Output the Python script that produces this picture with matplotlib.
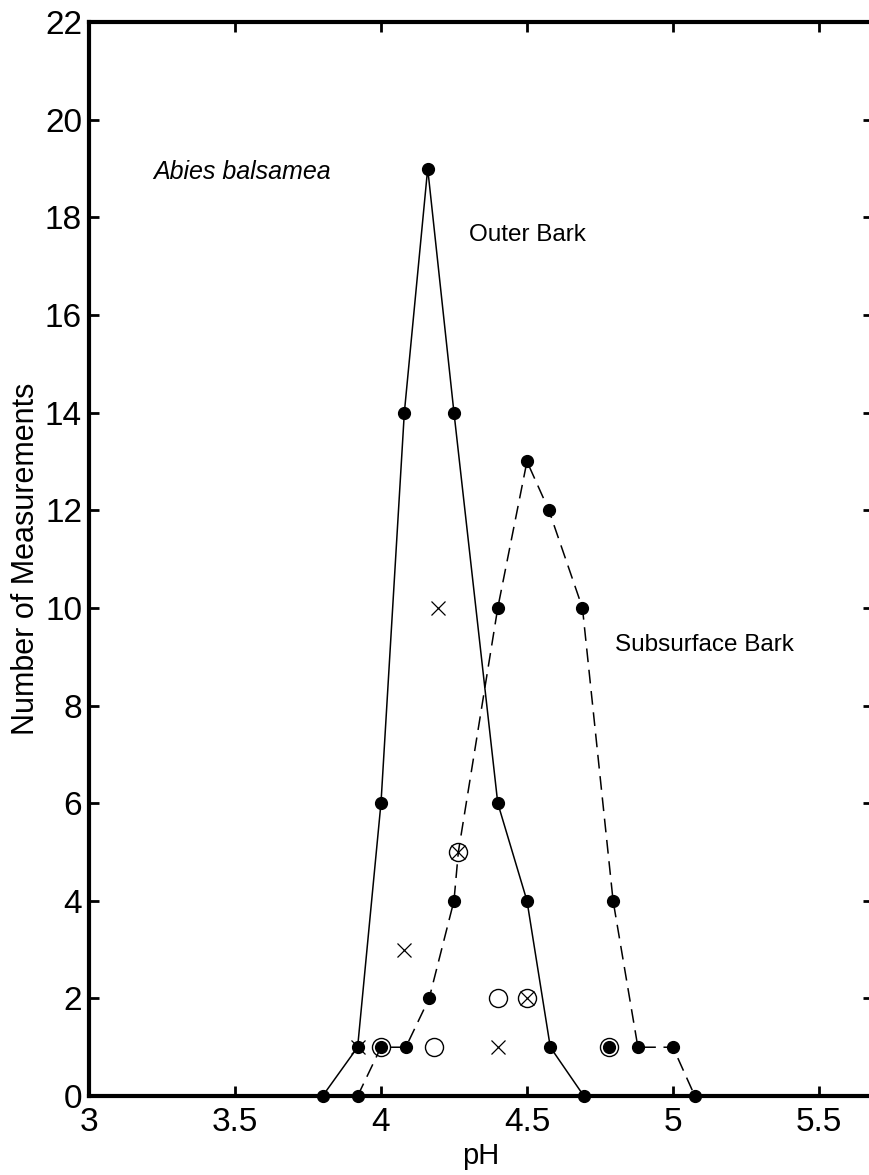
import matplotlib
matplotlib.use("Agg")
import matplotlib.pyplot as plt

plt.rcParams["font.family"] = ["Liberation Sans", "DejaVu Sans"]

# Outer bark counts (solid line)
outer_ph = [3.80, 3.92, 4.00, 4.08, 4.16, 4.25, 4.40, 4.50, 4.58, 4.695]
outer_n = [0, 1, 6, 14, 19, 14, 6, 4, 1, 0]

# Subsurface bark counts (dashed line)
sub_ph = [3.92, 4.00, 4.085, 4.165, 4.25, 4.265, 4.40, 4.50, 4.575, 4.69, 4.795, 4.88, 5.00, 5.075]
sub_n = [0, 1, 1, 2, 4, 5, 10, 13, 12, 10, 4, 1, 1, 0]
sub_dots = [0, 1, 2, 3, 4, 6, 7, 8, 9, 10, 11, 12, 13]

# Other symbols
cross_ph = [3.92, 4.08, 4.195, 4.265, 4.40, 4.50]
cross_n = [1, 3, 10, 5, 1, 2]
circle_ph = [4.00, 4.18, 4.265, 4.40, 4.50, 4.78]
circle_n = [1, 1, 5, 2, 2, 1]
dot_ph = [4.78]
dot_n = [1]

xticks = [3, 3.5, 4, 4.5, 5, 5.5]
xtick_labels = ["3", "3.5", "4", "4.5", "5", "5.5"]
yticks = list(range(0, 23, 2))

fig = plt.figure(figsize=(8.7, 11.75), dpi=100)
ax = fig.add_axes([0.1023, 0.0672, 0.9011, 0.914])

ax.plot(outer_ph, outer_n, "-", color="black", lw=1.1, marker="o", ms=8.5,
        mfc="black", mec="black", clip_on=False, zorder=3)
ax.plot(sub_ph, sub_n, color="black", lw=1.1, ls=(0, (9, 5)), marker="o", ms=8.5,
        mfc="black", mec="black", markevery=sub_dots, clip_on=False, zorder=3)
ax.plot(dot_ph, dot_n, "o", color="black", ms=8.5, zorder=3)
ax.plot(circle_ph, circle_n, "o", ms=13, mfc="none", mec="black", mew=1.0, zorder=4)
ax.plot(cross_ph, cross_n, "x", ms=9.5, mec="black", mew=0.9, zorder=4)

ax.set_xlim(3, 5.685)
ax.set_ylim(0, 22)
ax.set_xticks(xticks)
ax.set_xticklabels(xtick_labels)
ax.set_yticks(yticks)

ax.tick_params(direction="in", length=7, width=2, labelsize=24,
               top=True, right=True)
ax.tick_params(axis="x", pad=8)
ax.tick_params(axis="y", pad=5)
for s in ax.spines.values():
    s.set_linewidth(3)

ax.set_xlabel("pH", fontsize=21, labelpad=3)
ax.set_ylabel("Number of Measurements", fontsize=22, labelpad=3)

ax.text(3.219, 18.93, "Abies balsamea", fontsize=18, style="italic", ha="left", va="center")
ax.text(4.301, 17.64, "Outer Bark", fontsize=17.5, ha="left", va="center")
ax.text(4.801, 9.24, "Subsurface Bark", fontsize=17.5, ha="left", va="center")

fig.savefig("out.png", dpi=100)
